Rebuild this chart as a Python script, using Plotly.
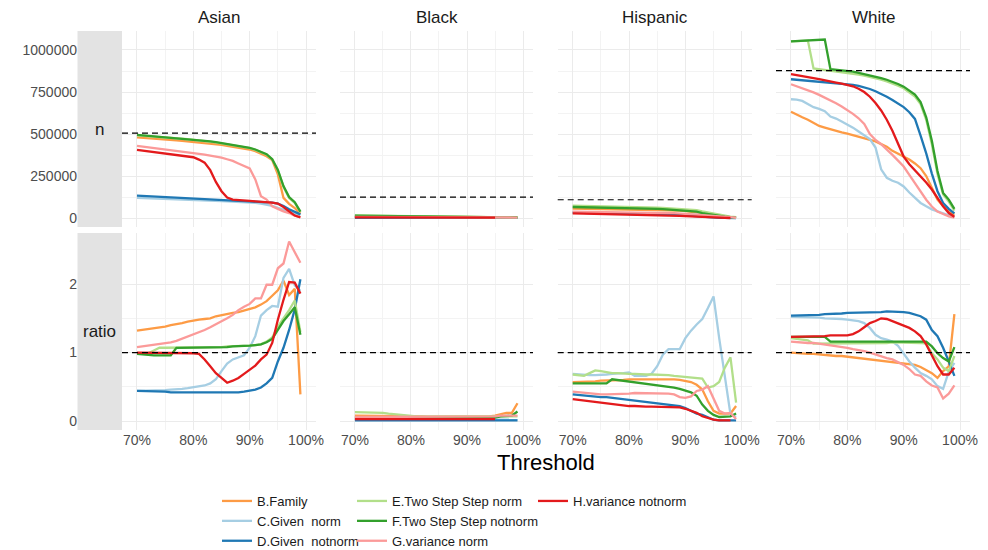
import plotly.graph_objects as go

# ---------------------------------------------------------------- data
THRESHOLDS = [0.70, 0.71, 0.72, 0.73, 0.74, 0.75, 0.76, 0.77, 0.78, 0.79,
              0.80, 0.81, 0.82, 0.83, 0.84, 0.85, 0.86, 0.87, 0.88, 0.89,
              0.90, 0.91, 0.92, 0.93, 0.94, 0.95, 0.96, 0.97, 0.98, 0.99]

GROUPS = ["Asian", "Black", "Hispanic", "White"]
METHODS = ["B.Family", "C.Given  norm", "D.Given  notnorm",
           "E.Two Step Step norm", "F.Two Step Step notnorm",
           "G.variance norm", "H.variance notnorm"]
COLORS = ["#FD9B45", "#A6CEE3", "#1F78B4", "#B2DF8A", "#33A02C", "#FB9A99", "#E31A1C"]

# group sizes (dashed reference in the n row) and the parity reference for ratio
GROUP_TOTAL = [505000, 125000, 109000, 877000]
RATIO_REF = 1.0

# n per threshold, in thousands
ASIAN_N = {
    "B.Family": [480, 478, 476, 473, 471, 468, 465, 462, 459, 456, 453, 450, 447, 443, 439, 435, 430, 425, 420, 414, 408, 398, 385, 368, 345, 260, 120, 85, 60, 25],
    "C.Given  norm": [120, 119, 118, 117, 116, 115, 114, 113, 112, 111, 110, 108, 107, 105, 103, 101, 99, 98, 96, 95, 93, 90, 86, 81, 73, 61, 49, 38, 28, 18],
    "D.Given  notnorm": [134, 132, 130, 128, 126, 124, 122, 120, 118, 116, 114, 112, 111, 110, 108, 107, 105, 104, 102, 101, 100, 98, 97, 95, 92, 86, 72, 52, 35, 22],
    "E.Two Step Step norm": [492, 490, 488, 486, 484, 482, 479, 476, 472, 469, 466, 462, 458, 454, 450, 445, 440, 435, 429, 423, 416, 406, 394, 378, 350, 285, 185, 120, 90, 35],
    "F.Two Step Step notnorm": [495, 492, 490, 488, 486, 484, 481, 478, 474, 471, 468, 464, 460, 456, 452, 447, 442, 437, 431, 425, 418, 408, 396, 380, 350, 287, 190, 125, 95, 38],
    "G.variance norm": [430, 426, 422, 418, 414, 410, 405, 400, 396, 391, 386, 382, 377, 372, 366, 360, 350, 340, 325, 310, 295, 230, 130, 110, 70, 55, 40, 30, 15, 5],
    "H.variance notnorm": [406, 402, 398, 394, 390, 386, 381, 376, 370, 366, 362, 348, 330, 285, 215, 160, 122, 110, 106, 104, 102, 100, 98, 96, 92, 86, 66, 40, 15, 4],
}
BLACK_N = {
    "B.Family": [10, 10, 10, 9.8, 9.6, 9.5, 9.3, 9.1, 9, 8.8, 8.6, 8.4, 8.2, 8, 7.8, 7.6, 7.4, 7.2, 7, 6.8, 6.6, 6.4, 6.2, 6, 5.8, 5.5, 5.2, 4.9, 4.6, 4.3],
    "C.Given  norm": [5, 5, 4.9, 4.8, 4.8, 4.7, 4.6, 4.5, 4.4, 4.3, 4.2, 4.1, 4, 3.9, 3.8, 3.7, 3.6, 3.5, 3.4, 3.3, 3.2, 3.1, 3, 2.9, 2.7, 2.5, 2.3, 2.1, 1.9, 1.7],
    "D.Given  notnorm": [2, 2, 2, 2, 2, 1.9, 1.9, 1.9, 1.9, 1.8, 1.8, 1.8, 1.8, 1.7, 1.7, 1.7, 1.7, 1.6, 1.6, 1.6, 1.5, 1.5, 1.5, 1.4, 1.4, 1.3, 1.2, 1.1, 1.0, 0.9],
    "E.Two Step Step norm": [16, 15.8, 15.5, 15, 14.5, 14, 13.5, 13, 12.5, 12, 11.5, 11, 10.6, 10.2, 9.8, 9.4, 9, 8.6, 8.2, 7.8, 7.4, 7, 6.6, 6.2, 5.8, 5.4, 5, 4.6, 4.2, 3.8],
    "F.Two Step Step notnorm": [14, 13.8, 13.5, 13.1, 12.7, 12.3, 11.9, 11.5, 11.1, 10.7, 10.3, 9.9, 9.5, 9.1, 8.8, 8.5, 8.2, 7.9, 7.6, 7.3, 7, 6.7, 6.4, 6.1, 5.8, 5.5, 5.2, 4.9, 4.6, 4.3],
    "G.variance norm": [7, 7, 6.9, 6.8, 6.7, 6.6, 6.5, 6.4, 6.3, 6.2, 6.1, 6, 5.9, 5.8, 5.7, 5.6, 5.5, 5.4, 5.3, 5.2, 5.1, 5, 4.9, 4.8, 4.6, 4.4, 4.1, 3.8, 3.5, 3.2],
    "H.variance notnorm": [4, 4, 4, 3.9, 3.9, 3.8, 3.8, 3.7, 3.7, 3.6, 3.6, 3.5, 3.5, 3.4, 3.4, 3.3, 3.3, 3.2, 3.2, 3.1, 3.1, 3, 3, 2.9, 2.9, 2.8, None, None, None, None],
}
HISPANIC_N = {
    "B.Family": [57, 56.5, 56, 55.5, 55, 54.5, 54, 53.5, 53, 52.5, 52, 51.5, 51, 50.5, 50, 49, 48, 47, 46, 44, 42, 39, 35, 30, 24, 17, 11, 7, 5, 3],
    "C.Given  norm": [36, 35.5, 35, 34.5, 34, 33.5, 33, 32.5, 32, 31.5, 31, 30.5, 30, 29.5, 29, 28.5, 28, 27, 26, 25, 24, 22, 20, 17, 14, 11, 8, 5, 3, 1],
    "D.Given  notnorm": [32, 31.5, 31, 30.5, 30, 29.5, 29, 28.5, 28, 27.5, 27, 26.5, 26, 25, 24, 23, 22, 21, 20, 18, 16, 13, 10, 7, 5, 3, 2, 1, 0.5, 0.3],
    "E.Two Step Step norm": [74, 73.5, 73, 72.5, 72, 71.5, 71, 70.5, 69.5, 68.5, 67.5, 66.5, 65.5, 64.5, 63.5, 62.5, 61, 59.5, 58, 56, 54, 51, 48, 40, 33, 26, 20, 14, 9, 5],
    "F.Two Step Step notnorm": [66, 65.5, 65, 64.5, 64, 63.6, 63.2, 62.6, 62, 61, 60, 59, 58, 57, 56, 55, 53, 51, 49, 48, 46, 42, 38, 30, 24, 18, 13, 9, 6, 3],
    "G.variance norm": [38, 37.8, 37.6, 37.4, 37.2, 37, 36.6, 36.2, 35.8, 35.4, 35, 34.5, 34, 33.5, 33, 32, 31, 30, 29, 27, 25, 23, 22, 20, 17, 14, 10, 8, 6, 2],
    "H.variance notnorm": [28, 27.5, 27, 26.5, 26, 25, 24.5, 24, 23, 22.5, 22, 21, 20.5, 20, 19, 18, 17, 16, 15, 13.5, 12, 10, 8, 6, 4, 3, 2, 1, 0.5, None],
}
WHITE_N = {
    "B.Family": [633, 615, 600, 585, 565, 548, 538, 528, 518, 510, 503, 493, 483, 474, 466, 456, 440, 425, 400, 383, 366, 348, 325, 297, 250, 175, 110, 70, 40, 20],
    "C.Given  norm": [707, 705, 697, 680, 660, 650, 636, 604, 592, 575, 558, 538, 515, 495, 470, 420, 290, 240, 222, 210, 188, 152, 118, 90, 70, 52, 40, 28, 15, 5],
    "D.Given  notnorm": [826, 823, 820, 818, 815, 812, 810, 807, 804, 801, 797, 793, 786, 778, 768, 755, 740, 722, 703, 683, 660, 630, 590, 490, 385, 265, 160, 90, 55, 28],
    "E.Two Step Step norm": [1051, 1053, 1055, 1056, 890, 886, 882, 878, 874, 870, 866, 860, 854, 847, 840, 832, 823, 813, 802, 788, 772, 750, 723, 678, 585, 440, 262, 140, 98, 45],
    "F.Two Step Step notnorm": [1051, 1053, 1055, 1056, 1058, 1060, 1062, 886, 883, 880, 877, 871, 864, 857, 850, 842, 833, 823, 812, 798, 782, 760, 735, 690, 600, 460, 280, 150, 110, 55],
    "G.variance norm": [796, 785, 773, 762, 748, 733, 717, 700, 683, 664, 644, 620, 594, 560, 500, 465, 440, 410, 376, 342, 307, 257, 208, 158, 109, 69, 39, 24, 10, 3],
    "H.variance notnorm": [857, 852, 846, 840, 833, 826, 818, 812, 806, 800, 794, 784, 770, 750, 722, 685, 640, 585, 520, 445, 366, 320, 285, 250, 212, 170, 120, 70, 30, 8],
}

ASIAN_RATIO = {
    "B.Family": [1.32, 1.33, 1.34, 1.35, 1.36, 1.38, 1.40, 1.41, 1.43, 1.45, 1.47, 1.48, 1.49, 1.50, 1.53, 1.55, 1.56, 1.58, 1.59, 1.61, 1.64, 1.66, 1.70, 1.75, 1.83, 1.91, 2.05, 1.84, 1.93, 0.39],
    "C.Given  norm": [0.44, 0.44, 0.44, 0.44, 0.45, 0.45, 0.46, 0.46, 0.47, 0.48, 0.49, 0.50, 0.52, 0.55, 0.61, 0.73, 0.84, 0.90, 0.93, 0.96, 1.07, 1.24, 1.54, 1.62, 1.68, 1.67, 2.09, 2.22, 1.98, 1.90],
    "D.Given  notnorm": [0.44, 0.44, 0.43, 0.43, 0.43, 0.43, 0.42, 0.42, 0.42, 0.41, 0.41, 0.41, 0.41, 0.41, 0.41, 0.41, 0.42, 0.42, 0.42, 0.43, 0.44, 0.46, 0.49, 0.55, 0.63, 0.87, 1.07, 1.33, 1.63, 2.07],
    "E.Two Step Step norm": [0.99, 0.99, 0.99, 1.03, 1.07, 1.07, 1.07, 1.07, 1.08, 1.08, 1.08, 1.08, 1.08, 1.08, 1.08, 1.08, 1.09, 1.09, 1.09, 1.09, 1.10, 1.11, 1.12, 1.16, 1.22, 1.38, 1.50, 1.62, 1.76, 1.30],
    "F.Two Step Step notnorm": [0.98, 0.97, 0.97, 0.96, 0.96, 0.96, 0.96, 1.07, 1.07, 1.07, 1.08, 1.08, 1.08, 1.08, 1.08, 1.08, 1.08, 1.09, 1.09, 1.09, 1.10, 1.11, 1.12, 1.15, 1.20, 1.33, 1.46, 1.56, 1.66, 1.26],
    "G.variance norm": [1.08, 1.09, 1.10, 1.11, 1.12, 1.14, 1.15, 1.17, 1.20, 1.23, 1.26, 1.30, 1.33, 1.37, 1.41, 1.46, 1.50, 1.55, 1.62, 1.67, 1.71, 1.79, 1.79, 1.99, 1.99, 2.23, 2.30, 2.62, 2.47, 2.31],
    "H.variance notnorm": [1.00, 1.00, 1.00, 1.00, 1.00, 1.00, 1.00, 1.00, 1.00, 0.99, 0.99, 0.98, 0.90, 0.80, 0.70, 0.63, 0.56, 0.59, 0.63, 0.69, 0.75, 0.81, 0.90, 0.97, 1.14, 1.48, 1.77, 2.03, 2.02, 1.86],
}
BLACK_RATIO = {
    "B.Family": [0.08, 0.08, 0.08, 0.08, 0.08, 0.07, 0.07, 0.07, 0.07, 0.07, 0.07, 0.07, 0.07, 0.06, 0.06, 0.06, 0.06, 0.06, 0.06, 0.06, 0.06, 0.06, 0.06, 0.06, 0.07, 0.08, 0.10, 0.12, 0.12, 0.26],
    "C.Given  norm": [0.03, 0.03, 0.03, 0.03, 0.03, 0.03, 0.03, 0.03, 0.03, 0.03, 0.03, 0.03, 0.03, 0.03, 0.03, 0.03, 0.03, 0.03, 0.03, 0.03, 0.03, 0.03, 0.03, 0.03, 0.03, 0.03, 0.02, 0.02, 0.02, 0.02],
    "D.Given  notnorm": [0.01, 0.01, 0.01, 0.01, 0.01, 0.01, 0.01, 0.01, 0.01, 0.01, 0.01, 0.01, 0.01, 0.01, 0.01, 0.01, 0.01, 0.01, 0.01, 0.01, 0.01, 0.01, 0.01, 0.01, 0.01, 0.01, 0.01, 0.01, 0.01, 0.01],
    "E.Two Step Step norm": [0.13, 0.13, 0.13, 0.13, 0.13, 0.12, 0.11, 0.10, 0.09, 0.08, 0.08, 0.07, 0.07, 0.07, 0.07, 0.07, 0.07, 0.07, 0.07, 0.07, 0.07, 0.07, 0.07, 0.07, 0.07, 0.07, 0.07, 0.07, 0.07, 0.07],
    "F.Two Step Step notnorm": [0.05, 0.05, 0.05, 0.05, 0.05, 0.05, 0.05, 0.05, 0.05, 0.05, 0.05, 0.05, 0.05, 0.05, 0.05, 0.05, 0.05, 0.05, 0.05, 0.05, 0.05, 0.05, 0.05, 0.05, 0.05, 0.05, 0.07, 0.08, 0.08, 0.14],
    "G.variance norm": [0.06, 0.06, 0.06, 0.06, 0.06, 0.06, 0.06, 0.06, 0.06, 0.06, 0.06, 0.06, 0.06, 0.06, 0.06, 0.06, 0.06, 0.06, 0.06, 0.06, 0.06, 0.06, 0.06, 0.06, 0.06, 0.07, 0.08, 0.08, 0.08, 0.08],
    "H.variance notnorm": [0.03, 0.03, 0.03, 0.03, 0.03, 0.03, 0.03, 0.03, 0.03, 0.03, 0.03, 0.03, 0.03, 0.03, 0.03, 0.03, 0.03, 0.03, 0.03, 0.03, 0.03, 0.03, 0.03, 0.03, 0.03, 0.03, None, None, None, None],
}
HISPANIC_RATIO = {
    "B.Family": [0.57, 0.57, 0.58, 0.58, 0.58, 0.59, 0.59, 0.60, 0.60, 0.60, 0.61, 0.61, 0.61, 0.62, 0.62, 0.62, 0.62, 0.62, 0.61, 0.60, 0.58, 0.57, 0.53, 0.46, 0.29, 0.15, 0.11, 0.11, 0.11, 0.22],
    "C.Given  norm": [0.69, 0.68, 0.67, 0.67, 0.67, 0.67, 0.68, 0.69, 0.69, 0.70, 0.71, 0.66, 0.66, 0.66, 0.69, 0.80, 0.97, 1.05, 1.05, 1.05, 1.21, 1.32, 1.41, 1.49, 1.65, 1.82, 1.21, 0.62, 0.10, 0.06],
    "D.Given  notnorm": [0.39, 0.38, 0.37, 0.36, 0.36, 0.35, 0.35, 0.34, 0.34, 0.33, 0.32, 0.31, 0.30, 0.28, 0.27, 0.26, 0.25, 0.25, 0.24, 0.22, 0.19, 0.15, 0.11, 0.09, 0.05, 0.02, 0.01, 0.01, 0.01, 0.01],
    "E.Two Step Step norm": [0.68, 0.67, 0.66, 0.70, 0.74, 0.73, 0.71, 0.70, 0.70, 0.69, 0.69, 0.69, 0.68, 0.68, 0.68, 0.68, 0.67, 0.67, 0.66, 0.65, 0.64, 0.64, 0.63, 0.62, 0.49, 0.51, 0.57, 0.78, 0.93, 0.27],
    "F.Two Step Step notnorm": [0.55, 0.55, 0.55, 0.55, 0.55, 0.55, 0.55, 0.61, 0.60, 0.58, 0.57, 0.57, 0.56, 0.55, 0.54, 0.52, 0.51, 0.50, 0.49, 0.47, 0.45, 0.42, 0.37, 0.24, 0.15, 0.09, 0.06, 0.06, 0.07, 0.11],
    "G.variance norm": [0.43, 0.42, 0.41, 0.40, 0.40, 0.39, 0.39, 0.39, 0.40, 0.40, 0.40, 0.41, 0.41, 0.41, 0.41, 0.41, 0.41, 0.40, 0.39, 0.35, 0.34, 0.36, 0.44, 0.46, 0.51, 0.34, 0.15, 0.11, 0.12, 0.03],
    "H.variance notnorm": [0.32, 0.31, 0.30, 0.29, 0.28, 0.27, 0.26, 0.25, 0.23, 0.22, 0.22, 0.22, 0.21, 0.21, 0.21, 0.21, 0.21, 0.21, 0.21, 0.20, 0.18, 0.15, 0.12, 0.07, 0.04, 0.02, 0.01, 0.01, 0.01, None],
}
WHITE_RATIO = {
    "B.Family": [1.00, 0.99, 0.99, 0.98, 0.98, 0.97, 0.97, 0.96, 0.95, 0.95, 0.94, 0.93, 0.92, 0.91, 0.90, 0.89, 0.88, 0.87, 0.86, 0.85, 0.84, 0.83, 0.82, 0.79, 0.75, 0.70, 0.63, 0.73, 0.80, 1.56],
    "C.Given  norm": [1.52, 1.52, 1.52, 1.51, 1.51, 1.51, 1.50, 1.50, 1.49, 1.49, 1.48, 1.47, 1.46, 1.43, 1.36, 1.26, 1.21, 1.19, 1.16, 1.10, 0.99, 0.87, 0.78, 0.70, 0.66, 0.61, 0.51, 0.47, 0.72, 0.85],
    "D.Given  notnorm": [1.54, 1.54, 1.55, 1.55, 1.55, 1.55, 1.56, 1.56, 1.57, 1.57, 1.58, 1.58, 1.58, 1.59, 1.59, 1.59, 1.59, 1.60, 1.60, 1.60, 1.59, 1.58, 1.56, 1.53, 1.48, 1.33, 1.24, 1.07, 0.87, 0.66],
    "E.Two Step Step norm": [1.21, 1.20, 1.19, 1.18, 1.13, 1.13, 1.13, 1.13, 1.13, 1.13, 1.13, 1.13, 1.13, 1.14, 1.14, 1.14, 1.14, 1.14, 1.15, 1.15, 1.15, 1.15, 1.15, 1.14, 1.13, 0.99, 0.90, 0.78, 0.73, 0.95],
    "F.Two Step Step notnorm": [1.23, 1.23, 1.23, 1.23, 1.23, 1.23, 1.23, 1.16, 1.16, 1.15, 1.15, 1.15, 1.16, 1.16, 1.16, 1.16, 1.16, 1.16, 1.16, 1.16, 1.16, 1.16, 1.16, 1.16, 1.16, 1.09, 0.99, 0.92, 0.87, 1.08],
    "G.variance norm": [1.16, 1.15, 1.15, 1.14, 1.14, 1.13, 1.12, 1.11, 1.09, 1.08, 1.07, 1.05, 1.04, 1.02, 1.00, 0.97, 0.95, 0.92, 0.90, 0.86, 0.82, 0.76, 0.68, 0.66, 0.58, 0.52, 0.49, 0.33, 0.40, 0.52],
    "H.variance notnorm": [1.23, 1.23, 1.23, 1.24, 1.24, 1.24, 1.24, 1.25, 1.25, 1.25, 1.25, 1.27, 1.31, 1.37, 1.43, 1.46, 1.50, 1.49, 1.46, 1.43, 1.39, 1.36, 1.31, 1.24, 1.12, 0.95, 0.80, 0.68, 0.68, 0.78],
}

N_TABLES = [ASIAN_N, BLACK_N, HISPANIC_N, WHITE_N]
RATIO_TABLES = [ASIAN_RATIO, BLACK_RATIO, HISPANIC_RATIO, WHITE_RATIO]

X_TICKS = [0.7, 0.8, 0.9, 1.0]
X_TICK_TEXT = ["70%", "80%", "90%", "100%"]
N_TICKS = [0, 250000, 500000, 750000, 1000000]
RATIO_TICKS = [0, 1, 2]
ROW_LABELS = ["n", "ratio"]

# ---------------------------------------------------------------- layout geometry
W, H = 988, 550
COL_PX = [(122, 316), (340, 533), (557.7, 751.7), (776, 970)]
ROW_PX = [(31, 227), (233, 430)]
STRIP_PX = (77.5, 122)
FONT = "Liberation Sans, Arial, Helvetica, sans-serif"
GRID = "#EBEBEB"

LEGEND_OF = {m: ("legend" if k < 3 else "legend2" if k < 6 else "legend3")
             for k, m in enumerate(METHODS)}

fig = go.Figure()

layout = dict(
    width=W, height=H, margin=dict(l=0, r=0, t=0, b=0, autoexpand=False),
    paper_bgcolor="white", plot_bgcolor="white",
    font=dict(family=FONT, color="#1A1A1A"),
)
shapes = []
annotations = []

for c, grp in enumerate(GROUPS):
    for r in range(2):
        i = r * 4 + c + 1
        sfx = "" if i == 1 else str(i)
        table = N_TABLES[c] if r == 0 else RATIO_TABLES[c]
        for k, m in enumerate(METHODS):
            vals = table[m]
            if r == 0:
                vals = [None if v is None else v * 1000 for v in vals]
            fig.add_trace(go.Scatter(
                x=THRESHOLDS, y=vals, mode="lines", name=m,
                line=dict(color=COLORS[k], width=2.3),
                xaxis="x" + sfx, yaxis="y" + sfx,
                legend=LEGEND_OF[m], showlegend=(i == 1),
                hoverinfo="skip",
            ))

        x0, x1 = COL_PX[c]
        y0, y1 = ROW_PX[r]
        layout["xaxis" + sfx] = dict(
            domain=[x0 / W, x1 / W], anchor="y" + sfx,
            range=[0.6734, 1.0177], tickvals=X_TICKS, ticktext=X_TICK_TEXT,
            showticklabels=(r == 1), ticks="", showline=False, zeroline=False,
            gridcolor=GRID, gridwidth=1.1,
            minor=dict(tickvals=[0.75, 0.85, 0.95], showgrid=True, gridcolor="#F3F3F3", gridwidth=1),
            tickfont=dict(size=14, color="#4D4D4D", family=FONT),
        )
        if r == 0:
            yrange, yt, ym = [-53000, 1113000], N_TICKS, [125000, 375000, 625000, 875000]
        else:
            yrange, yt, ym = [-0.13, 2.745], RATIO_TICKS, [0.5, 1.5, 2.5]
        layout["yaxis" + sfx] = dict(
            domain=[1 - y1 / H, 1 - y0 / H], anchor="x" + sfx,
            range=yrange, tickvals=yt, ticktext=[str(v) for v in yt],
            showticklabels=(c == 0), ticks="", showline=False, zeroline=False,
            gridcolor=GRID, gridwidth=1.1, ticklabelstandoff=44,
            minor=dict(tickvals=ym, showgrid=True, gridcolor="#F3F3F3", gridwidth=1),
            tickfont=dict(size=14, color="#4D4D4D", family=FONT),
        )

        # dashed reference line
        ref = GROUP_TOTAL[c] if r == 0 else RATIO_REF
        shapes.append(dict(
            type="line", xref="x" + sfx + " domain", yref="y" + sfx,
            x0=0, x1=1, y0=ref, y1=ref, layer="above",
            line=dict(color="black", width=1.2, dash="6px,4px"),
        ))

    # column strip titles
    x0, x1 = COL_PX[c]
    annotations.append(dict(
        text=grp, x=(x0 + x1) / 2 / W, y=1 - 18 / H, xref="paper", yref="paper",
        showarrow=False, xanchor="center", yanchor="middle",
        font=dict(size=17, color="#1A1A1A", family=FONT),
    ))

# row strips on the left
for r, lab in enumerate(ROW_LABELS):
    y0, y1 = ROW_PX[r]
    shapes.append(dict(
        type="rect", xref="paper", yref="paper",
        x0=STRIP_PX[0] / W, x1=STRIP_PX[1] / W, y0=1 - y1 / H, y1=1 - y0 / H,
        fillcolor="#E3E3E3", line=dict(width=0), layer="below",
    ))
    annotations.append(dict(
        text=lab, x=(STRIP_PX[0] + STRIP_PX[1]) / 2 / W, y=1 - (y0 + y1) / 2 / H,
        xref="paper", yref="paper", showarrow=False,
        xanchor="center", yanchor="middle",
        font=dict(size=17, color="#1A1A1A", family=FONT),
    ))

# shared x title
annotations.append(dict(
    text="Threshold", x=546 / W, y=1 - 462 / H, xref="paper", yref="paper",
    showarrow=False, xanchor="center", yanchor="middle",
    font=dict(size=22, color="black", family=FONT),
))

legend_common = dict(
    orientation="v", yanchor="top", xanchor="left", y=1 - 486 / H,
    font=dict(size=13, color="#1A1A1A", family=FONT),
    bgcolor="rgba(0,0,0,0)", tracegroupgap=0, itemwidth=30,
)
layout["legend"] = dict(legend_common, x=217 / W)
layout["legend2"] = dict(legend_common, x=352 / W)
layout["legend3"] = dict(legend_common, x=533 / W)
layout["shapes"] = shapes
layout["annotations"] = annotations

fig.update_layout(**layout)
fig.write_html("out.html")
